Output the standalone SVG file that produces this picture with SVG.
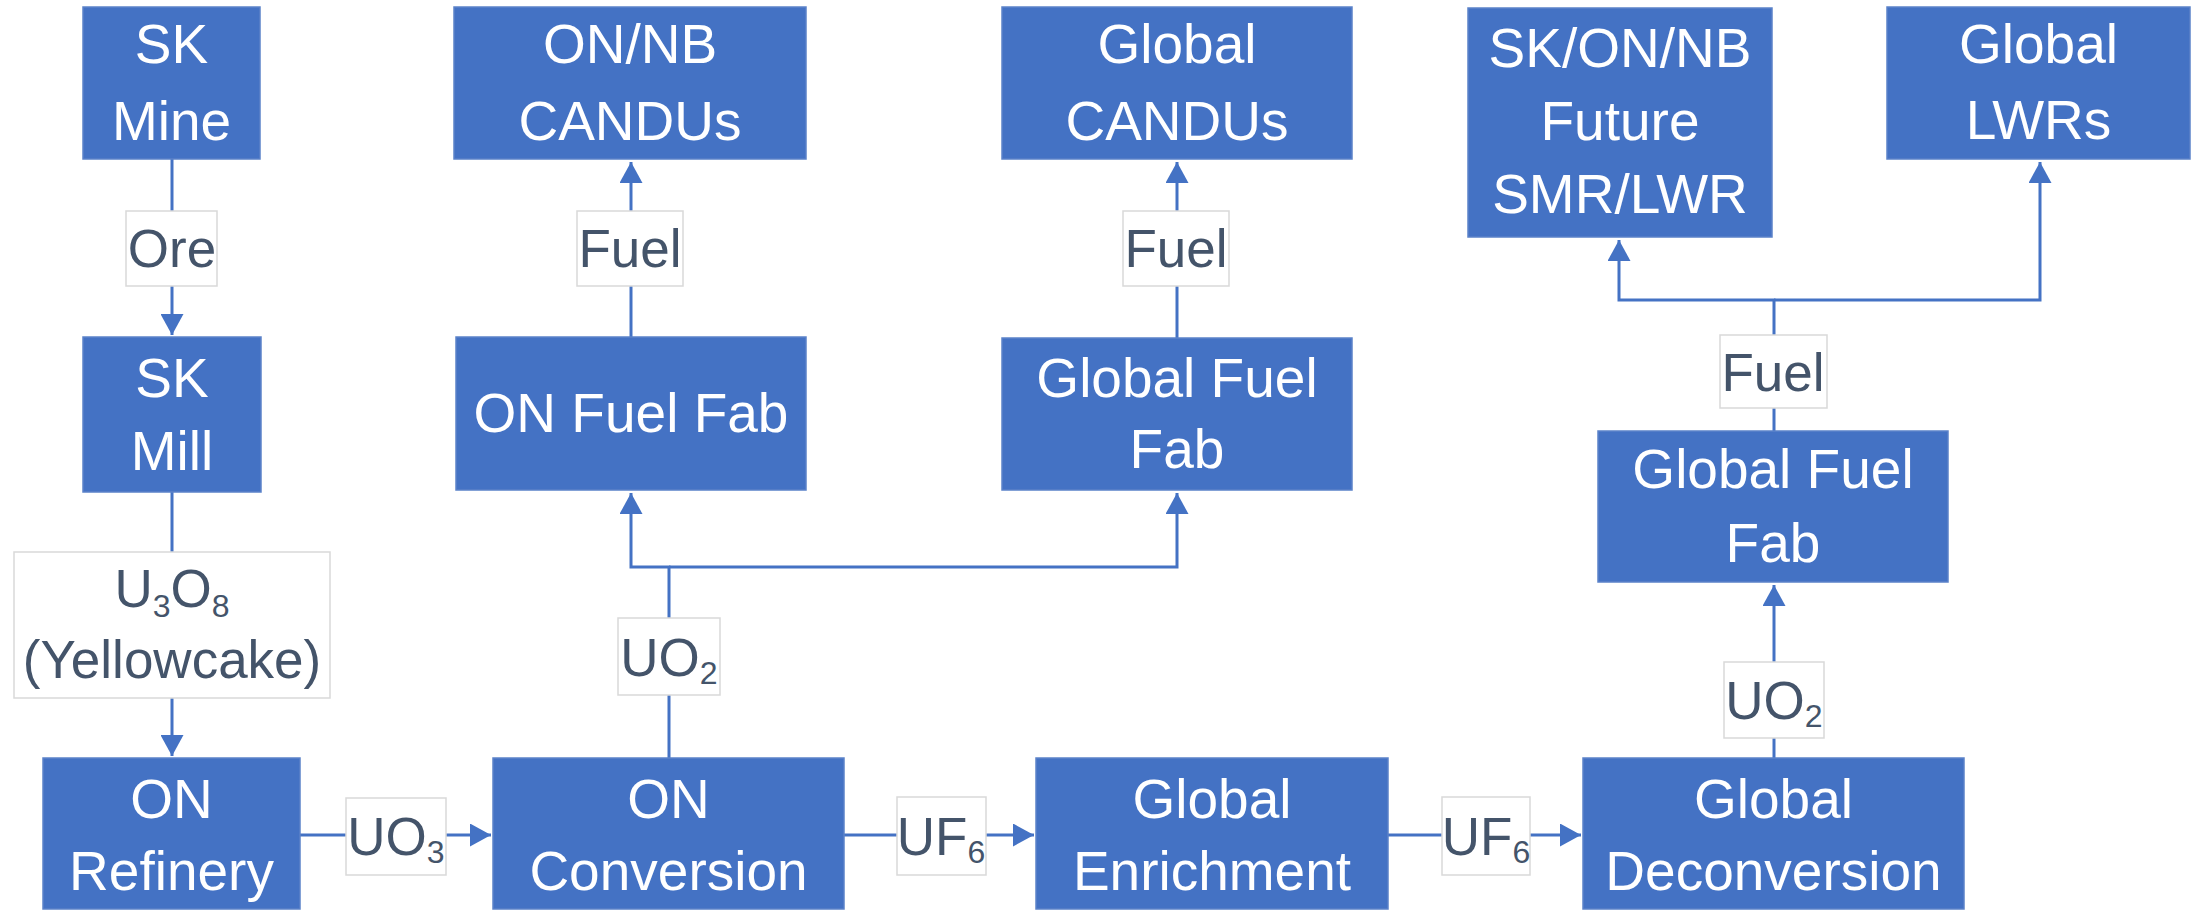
<svg xmlns="http://www.w3.org/2000/svg" width="2202" height="912" viewBox="0 0 2202 912">
<defs>
<style>
.node rect{fill:#4472C4;stroke:#5b82c9;stroke-width:1.5}
.node text{font-family:"Liberation Sans",Arial,sans-serif;font-size:55px;fill:#FFFFFF;text-anchor:middle}
.lbl rect{fill:#FFFFFF;stroke:#D9D9D9;stroke-width:1.5}
.lbl text{font-family:"Liberation Sans",Arial,sans-serif;font-size:53px;fill:#44546A;text-anchor:middle}
.sub{font-size:32px}
.conn path{fill:none;stroke:#4472C4;stroke-width:3}
</style>
<marker id="arr" viewBox="0 0 21 23" markerWidth="21" markerHeight="23" refX="21" refY="11.5" orient="auto" markerUnits="userSpaceOnUse">
<path d="M0,0 L21,11.5 L0,23 Z" fill="#4472C4"/>
</marker>
</defs>
<rect width="2202" height="912" fill="#FFFFFF"/>

<g id="connectors" class="conn">
<path d="M172,159 V335" marker-end="url(#arr)"/>
<path d="M172,492 V756" marker-end="url(#arr)"/>
<path d="M300,835 H491" marker-end="url(#arr)"/>
<path d="M669,758 V567 H631 V493" marker-end="url(#arr)"/>
<path d="M669,567 H1177 V493" marker-end="url(#arr)"/>
<path d="M631,337 V162" marker-end="url(#arr)"/>
<path d="M1177,338 V162" marker-end="url(#arr)"/>
<path d="M844,835 H1034" marker-end="url(#arr)"/>
<path d="M1388,835 H1581" marker-end="url(#arr)"/>
<path d="M1774,758 V585" marker-end="url(#arr)"/>
<path d="M1774,431 V300 H1619 V240" marker-end="url(#arr)"/>
<path d="M1774,300 H2040 V162" marker-end="url(#arr)"/>
</g>

<g id="labels">
<g class="lbl" id="lbl-ore"><rect x="126" y="211" width="91" height="75"/><text x="172" y="267">Ore</text></g>
<g class="lbl" id="lbl-u3o8"><rect x="14" y="552" width="316" height="146"/><text x="172" y="607">U<tspan class="sub" dy="10">3</tspan><tspan dy="-10">O</tspan><tspan class="sub" dy="10">8</tspan></text><text x="172" y="678">(Yellowcake)</text></g>
<g class="lbl" id="lbl-uo3"><rect x="346" y="798" width="100" height="77"/><text x="396" y="855">UO<tspan class="sub" dy="8">3</tspan></text></g>
<g class="lbl" id="lbl-uo2a"><rect x="618" y="618" width="102" height="77"/><text x="669" y="676">UO<tspan class="sub" dy="8">2</tspan></text></g>
<g class="lbl" id="lbl-fuel1"><rect x="577" y="211" width="106" height="75"/><text x="630" y="267">Fuel</text></g>
<g class="lbl" id="lbl-fuel2"><rect x="1123" y="211" width="106" height="75"/><text x="1176" y="267">Fuel</text></g>
<g class="lbl" id="lbl-uf6a"><rect x="897" y="797" width="89" height="78"/><text x="941" y="855">UF<tspan class="sub" dy="8">6</tspan></text></g>
<g class="lbl" id="lbl-uf6b"><rect x="1442" y="797" width="88" height="78"/><text x="1486" y="855">UF<tspan class="sub" dy="8">6</tspan></text></g>
<g class="lbl" id="lbl-uo2b"><rect x="1724" y="662" width="100" height="76"/><text x="1774" y="719">UO<tspan class="sub" dy="8">2</tspan></text></g>
<g class="lbl" id="lbl-fuel3"><rect x="1720" y="335" width="107" height="73"/><text x="1773" y="391">Fuel</text></g>
</g>

<g class="node" id="sk-mine"><rect x="83" y="7" width="177" height="152"/><text x="171.5" y="63">SK</text><text x="171.5" y="140">Mine</text></g>
<g class="node" id="on-nb-candus"><rect x="454" y="7" width="352" height="152"/><text x="630" y="63">ON/NB</text><text x="630" y="140">CANDUs</text></g>
<g class="node" id="global-candus"><rect x="1002" y="7" width="350" height="152"/><text x="1177" y="63">Global</text><text x="1177" y="140">CANDUs</text></g>
<g class="node" id="future-smr"><rect x="1468" y="8" width="304" height="229"/><text x="1620" y="67">SK/ON/NB</text><text x="1620" y="140">Future</text><text x="1620" y="213">SMR/LWR</text></g>
<g class="node" id="global-lwrs"><rect x="1887" y="7" width="303" height="152"/><text x="2038.5" y="63">Global</text><text x="2038.5" y="139">LWRs</text></g>

<g class="node" id="sk-mill"><rect x="83" y="337" width="178" height="155"/><text x="172" y="397">SK</text><text x="172" y="470">Mill</text></g>
<g class="node" id="on-fuel-fab"><rect x="456" y="337" width="350" height="153"/><text x="631" y="432">ON Fuel Fab</text></g>
<g class="node" id="global-fuel-fab-1"><rect x="1002" y="338" width="350" height="152"/><text x="1177" y="397">Global Fuel</text><text x="1177" y="468">Fab</text></g>
<g class="node" id="global-fuel-fab-2"><rect x="1598" y="431" width="350" height="151"/><text x="1773" y="488">Global Fuel</text><text x="1773" y="562">Fab</text></g>

<g class="node" id="on-refinery"><rect x="43" y="758" width="257" height="151"/><text x="171.5" y="818">ON</text><text x="171.5" y="890">Refinery</text></g>
<g class="node" id="on-conversion"><rect x="493" y="758" width="351" height="151"/><text x="668.5" y="818">ON</text><text x="668.5" y="890">Conversion</text></g>
<g class="node" id="global-enrichment"><rect x="1036" y="758" width="352" height="151"/><text x="1212" y="818">Global</text><text x="1212" y="890">Enrichment</text></g>
<g class="node" id="global-deconversion"><rect x="1583" y="758" width="381" height="151"/><text x="1773.5" y="818">Global</text><text x="1773.5" y="890">Deconversion</text></g>
</svg>
